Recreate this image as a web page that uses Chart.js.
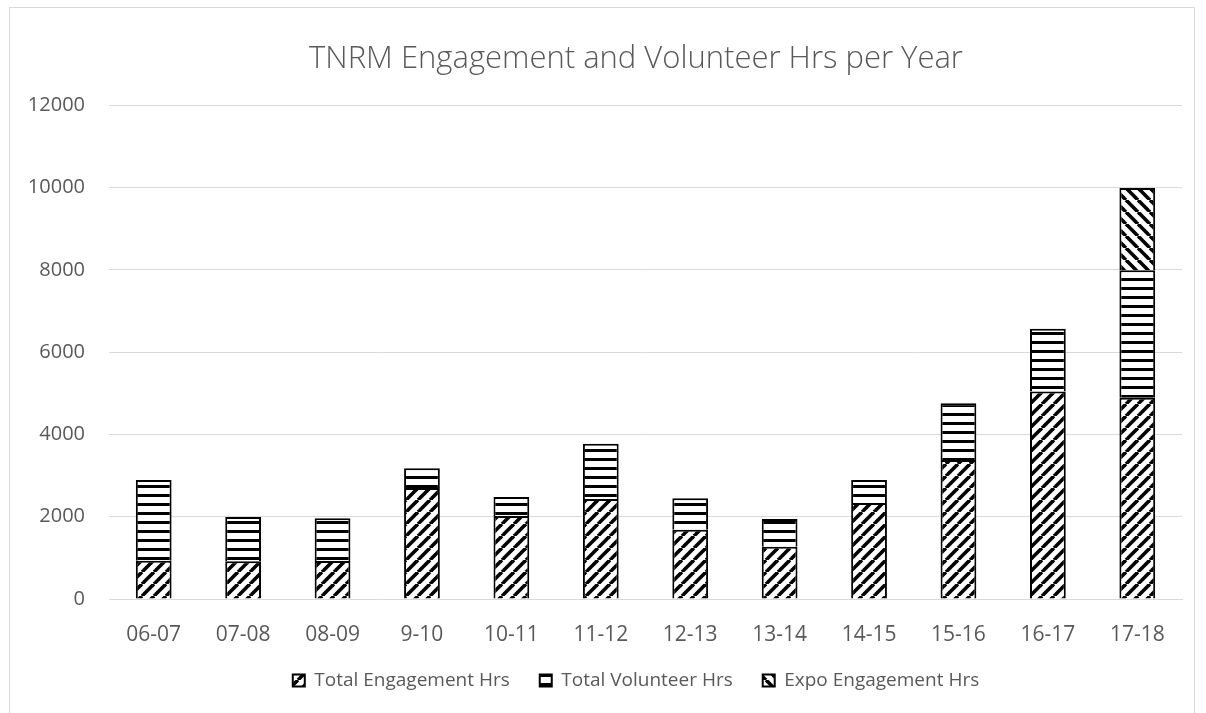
<!DOCTYPE html>
<html>
<head>
<meta charset="utf-8">
<script src="https://cdn.jsdelivr.net/npm/chart.js@4/dist/chart.umd.min.js"></script>
<style>
  html, body { margin: 0; padding: 0; background: #fff; }
  #wrap { position: absolute; left: 9px; top: 7px; width: 1186px; height: 722px;
          border: 1px solid #d9d9d9; box-sizing: border-box; }
  canvas { display: block; }
</style>
</head>
<body>
<div id="wrap"><canvas id="c" width="1184" height="714"></canvas></div>
<script>
// Datos (horas por año fiscal)
const years = ['06-07', '07-08', '08-09', '9-10', '10-11', '11-12', '12-13', '13-14', '14-15', '15-16', '16-17', '17-18'];
const engagementHrs = [930, 920, 925, 2700, 2020, 2430, 1680, 1270, 2330, 3380, 5040, 4890];
const volunteerHrs = [1960, 1070, 1035, 480, 460, 1340, 770, 675, 560, 1380, 1530, 3100];
const expoHrs = [null, null, null, null, null, null, null, null, null, null, null, 2000];
const yTicks = [0, 2000, 4000, 6000, 8000, 10000, 12000];

// patrones tipo Excel: negro sobre blanco
function pattern(kind) {
  const s = kind === 'h' ? 9 : 12;
  const cv = document.createElement('canvas');
  cv.width = s; cv.height = s;
  const g = cv.getContext('2d');
  g.fillStyle = '#fff'; g.fillRect(0, 0, s, s);
  g.strokeStyle = '#000'; g.lineWidth = 3.6;
  if (kind === 'h') {
    g.fillStyle = '#000'; g.fillRect(0, 0, s, 3);
  } else {
    const up = kind === 'up';
    [-s, 0, s].forEach((o) => {
      g.beginPath();
      if (up) { g.moveTo(o, s); g.lineTo(o + s, 0); }
      else { g.moveTo(o, 0); g.lineTo(o + s, s); }
      g.stroke();
    });
  }
  return g.createPattern(cv, 'repeat');
}

const ctx = document.getElementById('c').getContext('2d');
const txt = '#595959';
const ds = (label, data, kind) => ({
  label, data, backgroundColor: pattern(kind), borderColor: '#000', borderWidth: 2,
  categoryPercentage: 1, barPercentage: 0.4,
});

// los ejes se extienden tras el layout para que sus etiquetas no se recorten
const axisRoom = {
  id: 'axisRoom',
  afterLayout: (chart) => { chart.scales.y.left = 0; chart.scales.x.bottom += 24; },
};

new Chart(ctx, {
  type: 'bar',
  data: {
    labels: years,
    datasets: [
      ds('Total Engagement Hrs', engagementHrs, 'up'),
      ds('Total Volunteer Hrs', volunteerHrs, 'h'),
      ds('Expo Engagement Hrs', expoHrs, 'down'),
    ],
  },
  plugins: [axisRoom],
  options: {
    responsive: false, animation: false,
    layout: { padding: { left: 80, right: 12, top: 33, bottom: 22 } },
    plugins: {
      title: {
        display: true, text: 'TNRM Engagement and Volunteer Hrs per Year',
        color: txt, font: { family: 'Open Sans', size: 31, weight: '300' },
        padding: { top: 0, bottom: 27 },
      },
      legend: {
        position: 'bottom',
        labels: { color: txt, font: { family: 'Open Sans', size: 19 }, boxWidth: 12, boxHeight: 12, padding: 30 },
      },
      tooltip: { enabled: false },
    },
    scales: {
      x: {
        stacked: true,
        afterFit: (s) => { s.height = 42; },
        grid: { display: false, drawTicks: false },
        border: { color: '#d9d9d9' },
        ticks: { color: txt, font: { family: 'Open Sans', size: 21 }, padding: 23 },
      },
      y: {
        stacked: true, min: 0, max: 12000,
        afterFit: (s) => { s.width = 19; },
        afterBuildTicks: (s) => { s.ticks = yTicks.map((v) => ({ value: v })); },
        grid: { color: '#d9d9d9', drawTicks: false },
        border: { display: false },
        ticks: { color: txt, font: { family: 'Open Sans', size: 20 }, padding: 24, callback: (v) => String(v) },
      },
    },
  },
});
</script>
</body>
</html>
